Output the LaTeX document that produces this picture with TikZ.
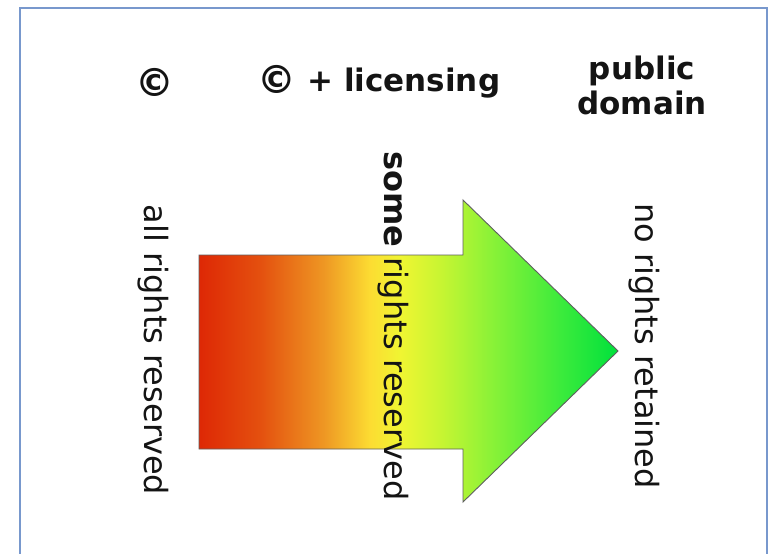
\documentclass[tikz,border=0pt]{standalone}
\usepackage{fontspec}
\setmainfont{DejaVu Sans}
\usepackage{tikz}

\definecolor{frameblue}{RGB}{120,152,205}
\definecolor{edgegray}{RGB}{95,95,95}
\definecolor{inkgray}{RGB}{20,20,20}
\pgfdeclarehorizontalshading{rightsgrad}{100bp}{
  color(0bp)=(rgb,255:red,222;green,40;blue,5);
  color(25bp)=(rgb,255:red,222;green,40;blue,5);
  color(32.3bp)=(rgb,255:red,228;green,80;blue,15);
  color(39.8bp)=(rgb,255:red,238;green,150;blue,35);
  color(45.4bp)=(rgb,255:red,252;green,220;blue,50);
  color(49bp)=(rgb,255:red,240;green,245;blue,50);
  color(53.8bp)=(rgb,255:red,200;green,245;blue,50);
  color(59.7bp)=(rgb,255:red,140;green,242;blue,55);
  color(68.1bp)=(rgb,255:red,60;green,235;blue,60);
  color(75bp)=(rgb,255:red,0;green,225;blue,60);
  color(100bp)=(rgb,255:red,0;green,225;blue,60)}
\newcommand{\bigcopy}{\raisebox{-0.08em}{\scalebox{1.25}{©}}}

\begin{document}
\begin{tikzpicture}[x=1pt,y=-1pt,inner sep=0pt]
  \tikzstyle{title}=[inkgray,font=\fontsize{31}{35}\selectfont\bfseries,align=center]
  \tikzstyle{side}=[inkgray,font=\fontsize{32}{36}\selectfont,rotate=-90]
  \useasboundingbox (0,0) rectangle (769,554);
  \fill[white] (0,0) rectangle (769,554);
  % frame
  \draw[frameblue,line width=1.2pt] (20,580) -- (20,8) -- (767,8) -- (767,580);
  % arrow
  \coordinate (tl) at (199,255);
  \coordinate (bl) at (199,449);
  \coordinate (tip) at (618,351);
  \draw[edgegray,line width=0.9pt,shading=rightsgrad]
    (tl) -- (463,255) -- (463,200) -- (tip) -- (463,502) -- (463,449) -- (bl) -- cycle;
  % headings
  \node[title] (copy) at (155,82) {\bigcopy};
  \node[title] (lic) at (379,82) {\bigcopy{} + licensing};
  \node[title] (pd) at (642,85) {public\\domain};
  % rotated labels
  \node[side] (all) at (153,350) {all rights reserved};
  \node[side] (some) at (393,326) {\textbf{some} rights reserved};
  \node[side] (none) at (644,346) {no rights retained};
\end{tikzpicture}
\end{document}
